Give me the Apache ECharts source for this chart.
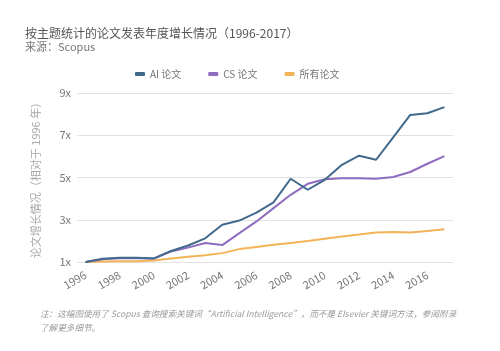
<!DOCTYPE html>
<html><head><meta charset="utf-8">
<script src="https://cdn.jsdelivr.net/npm/echarts@6/dist/echarts.min.js"></script>
<style>html,body{margin:0;padding:0;background:#fff}#c{width:500px;height:351px}</style>
</head><body><div id="c"></div>
<script>
var years = ['1996','1997','1998','1999','2000','2001','2002','2003','2004','2005','2006','2007','2008','2009','2010','2011','2012','2013','2014','2015','2016','2017'];
var aiPapers = [1.0,1.15,1.2,1.2,1.17,1.52,1.78,2.12,2.76,2.96,3.34,3.82,4.94,4.42,4.89,5.6,6.03,5.84,6.9,7.96,8.04,8.33];
var csPapers = [1.0,1.13,1.18,1.18,1.16,1.5,1.68,1.9,1.8,2.37,2.92,3.55,4.18,4.7,4.92,4.97,4.97,4.94,5.02,5.26,5.65,6.01];
var allPapers = [1.0,1.02,1.03,1.04,1.07,1.17,1.25,1.32,1.42,1.61,1.71,1.82,1.9,1.99,2.1,2.21,2.3,2.4,2.42,2.4,2.47,2.55];
var yTicks = [1,3,5,7,9];
var seriesNames = ['AI 论文','CS 论文','所有论文'];
var colors = ['#41698c','#8e6cc0','#f2b457'];

var chart = echarts.init(document.getElementById('c'));
var font = '"Noto Sans CJK SC","Noto Sans",sans-serif';
chart.setOption({
  backgroundColor:'#fff',
  animation:false,
  textStyle:{fontFamily:font},
  title:{
    text:'按主题统计的论文发表年度增长情况（1996-2017）',
    subtext:'来源：Scopus',
    left:20, top:22, itemGap:2,
    textStyle:{fontSize:12, fontWeight:'normal', color:'#555', fontFamily:font},
    subtextStyle:{fontSize:11, color:'#777', fontFamily:font}
  },
  legend:{
    left:130, top:64, itemGap:27, itemWidth:10, itemHeight:4, icon:'roundRect',
    textStyle:{fontSize:10, color:'#777', fontFamily:font},
    data:seriesNames
  },
  grid:{left:77, right:47, top:93, bottom:89, containLabel:false},
  xAxis:{
    type:'category', data:years, boundaryGap:true,
    axisLine:{show:false}, axisTick:{show:false},
    axisLabel:{interval:1, rotate:30, margin:12, fontSize:11, color:'#777', fontFamily:font}
  },
  yAxis:{
    type:'value', min:yTicks[0], max:yTicks[yTicks.length-1], interval:2,
    name:'论文增长情况（相对于 1996 年）', nameLocation:'middle', nameGap:36, nameRotate:90,
    nameTextStyle:{fontSize:11, color:'#aaa', fontFamily:font},
    axisLine:{show:false}, axisTick:{show:false},
    axisLabel:{formatter:function(v){return v+'x';}, fontSize:11, color:'#777', margin:6, fontFamily:font},
    splitLine:{lineStyle:{color:'#e3e3e3', width:1}}
  },
  series:[
    {name:seriesNames[0], type:'line', data:aiPapers, symbol:'none', z:3, lineStyle:{width:2, color:colors[0]}, itemStyle:{color:colors[0]}},
    {name:seriesNames[1], type:'line', data:csPapers, symbol:'none', z:2, lineStyle:{width:2, color:colors[1]}, itemStyle:{color:colors[1]}},
    {name:seriesNames[2], type:'line', data:allPapers, symbol:'none', z:1, lineStyle:{width:2, color:colors[2]}, itemStyle:{color:colors[2]}}
  ],
  graphic:[
    {type:'text', left:40, top:309, style:{text:'注：这幅图使用了 Scopus 查询搜索关键词“Artificial Intelligence”，而不是 Elsevier 关键词方法，参阅附录', fontSize:8.6, fontStyle:'italic', fill:'#999', fontFamily:font}},
    {type:'text', left:40, top:323, style:{text:'了解更多细节。', fontSize:8.6, fontStyle:'italic', fill:'#999', fontFamily:font}}
  ]
});
</script></body></html>
